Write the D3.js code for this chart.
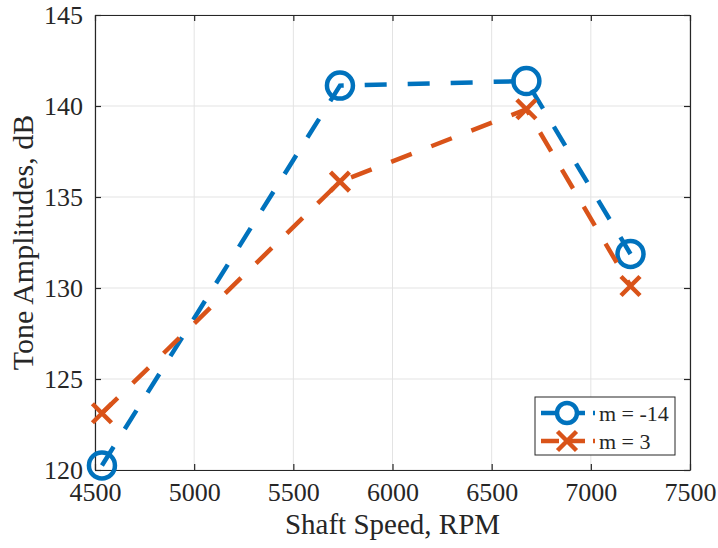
<!DOCTYPE html>
<html>
<head>
<meta charset="utf-8">
<script src="https://cdn.jsdelivr.net/npm/d3@7"></script>
<style>
	body { margin: 0; background: #fff; }
	text { font-family: "Liberation Serif", "Times New Roman", serif; fill: #262626; }
</style>
</head>
<body>
<svg id="chart" width="718" height="548"></svg>
<script>
// shaft speeds (RPM) and tone amplitudes (dB)
var speeds = [4535, 5735, 6675, 7200];
var ampM14 = [120.25, 141.12, 141.37, 131.87];
var ampM3 = [123.12, 135.84, 139.82, 130.11];
var xTicks = [4500, 5000, 5500, 6000, 6500, 7000, 7500];
var yTicks = [120, 125, 130, 135, 140, 145];
var seriesNames = ['m = -14', 'm = 3'];

var W = 718, H = 548;
var margin = {left: 95, right: 28, top: 15, bottom: 78};
var svg = d3.select('#chart');
var serif = '"Liberation Serif", "Times New Roman", serif';

var x = d3.scaleLinear().domain([4500, 7500]).range([margin.left, W - margin.right]);
var y = d3.scaleLinear().domain([120, 145]).range([H - margin.bottom, margin.top]);

var axisColor = '#262626';
var blue = '#0072BD', orange = '#D95319';

// grid
var grid = svg.append('g').attr('class', 'grid');
grid.selectAll('line.gx').data(xTicks).enter().append('line')
	.attr('x1', d => x(d)).attr('x2', d => x(d))
	.attr('y1', y(145)).attr('y2', y(120))
	.attr('stroke', '#e3e3e3').attr('stroke-width', 1);
grid.selectAll('line.gy').data(yTicks).enter().append('line')
	.attr('y1', d => y(d)).attr('y2', d => y(d))
	.attr('x1', x(4500)).attr('x2', x(7500))
	.attr('stroke', '#e3e3e3').attr('stroke-width', 1);

// axes (ticks inside, box on)
var tickLen = 6;
var fmt = d3.format('d');
var gx = svg.append('g').attr('transform', 'translate(0,' + y(120) + ')')
	.call(d3.axisBottom(x).tickValues(xTicks).tickFormat(fmt).tickSizeInner(-tickLen).tickSizeOuter(0).tickPadding(13));
var gy = svg.append('g').attr('transform', 'translate(' + x(4500) + ',0)')
	.call(d3.axisLeft(y).tickValues(yTicks).tickFormat(fmt).tickSizeInner(-tickLen).tickSizeOuter(0).tickPadding(12));
var gxTop = svg.append('g').attr('transform', 'translate(0,' + y(145) + ')')
	.call(d3.axisTop(x).tickValues(xTicks).tickSizeInner(-tickLen).tickSizeOuter(0).tickFormat(''));
var gyRight = svg.append('g').attr('transform', 'translate(' + x(7500) + ',0)')
	.call(d3.axisRight(y).tickValues(yTicks).tickSizeInner(-tickLen).tickSizeOuter(0).tickFormat(''));
[gx, gy, gxTop, gyRight].forEach(function(g){
	g.attr('font-family', null).attr('font-size', null);
	g.select('.domain').attr('stroke', axisColor).attr('stroke-width', 1.2);
	g.selectAll('.tick line').attr('stroke', axisColor).attr('stroke-width', 1.2);
	g.selectAll('.tick text').style('font-size', '26px').style('font-family', serif)
		.attr('fill', axisColor);
});

// axis labels
svg.append('text')
	.attr('x', (x(4500) + x(7500)) / 2).attr('y', 534)
	.attr('text-anchor', 'middle').style('font-size', '29px')
	.text('Shaft Speed, RPM');
svg.append('text')
	.attr('transform', 'translate(33,' + ((y(120) + y(145)) / 2) + ') rotate(-90)')
	.attr('text-anchor', 'middle').style('font-size', '30px')
	.text('Tone Amplitudes, dB');

// series
var line = d3.line().x(d => x(d[0])).y(d => y(d[1]));
var dash = '22,21';
var lw = 4.5;

function drawSeries(vals, color, marker){
	var pts = speeds.map((s, i) => [s, vals[i]]);
	svg.append('path').datum(pts)
		.attr('d', line).attr('fill', 'none')
		.attr('stroke', color).attr('stroke-width', lw)
		.attr('stroke-dasharray', dash);
	var g = svg.append('g');
	pts.forEach(function(p){
		drawMarker(g, x(p[0]), y(p[1]), color, marker);
	});
}

function drawMarker(g, cx, cy, color, marker){
	if(marker == 'o'){
		g.append('circle').attr('cx', cx).attr('cy', cy).attr('r', 13)
			.attr('fill', 'none').attr('stroke', color).attr('stroke-width', lw);
	} else {
		var s = 9.5;
		g.append('path')
			.attr('d', 'M' + (cx - s) + ',' + (cy - s) + 'L' + (cx + s) + ',' + (cy + s) +
				'M' + (cx - s) + ',' + (cy + s) + 'L' + (cx + s) + ',' + (cy - s))
			.attr('stroke', color).attr('stroke-width', lw).attr('fill', 'none');
	}
}

drawSeries(ampM14, blue, 'o');
drawSeries(ampM3, orange, 'x');

// legend
var lg = svg.append('g');
lg.append('rect').attr('x', 535).attr('y', 397).attr('width', 140).attr('height', 58)
	.attr('fill', '#fff').attr('stroke', axisColor).attr('stroke-width', 1);
var legendItems = [
	{name: seriesNames[0], color: blue, marker: 'o'},
	{name: seriesNames[1], color: orange, marker: 'x'}
];
legendItems.forEach(function(d, i){
	var ly = 413 + i * 28;
	lg.append('line').attr('x1', 541).attr('x2', 595).attr('y1', ly).attr('y2', ly)
		.attr('stroke', d.color).attr('stroke-width', lw).attr('stroke-dasharray', '18,8');
	if(d.marker == 'o'){
		lg.append('circle').attr('cx', 567).attr('cy', ly).attr('r', 10)
			.attr('fill', '#fff').attr('stroke', d.color).attr('stroke-width', lw);
	} else {
		drawMarker(lg, 567, ly, d.color, 'x');
	}
	lg.append('text').attr('x', 599).attr('y', ly).attr('dy', '0.35em')
		.style('font-size', '22px').text(d.name);
});
</script>
</body>
</html>
